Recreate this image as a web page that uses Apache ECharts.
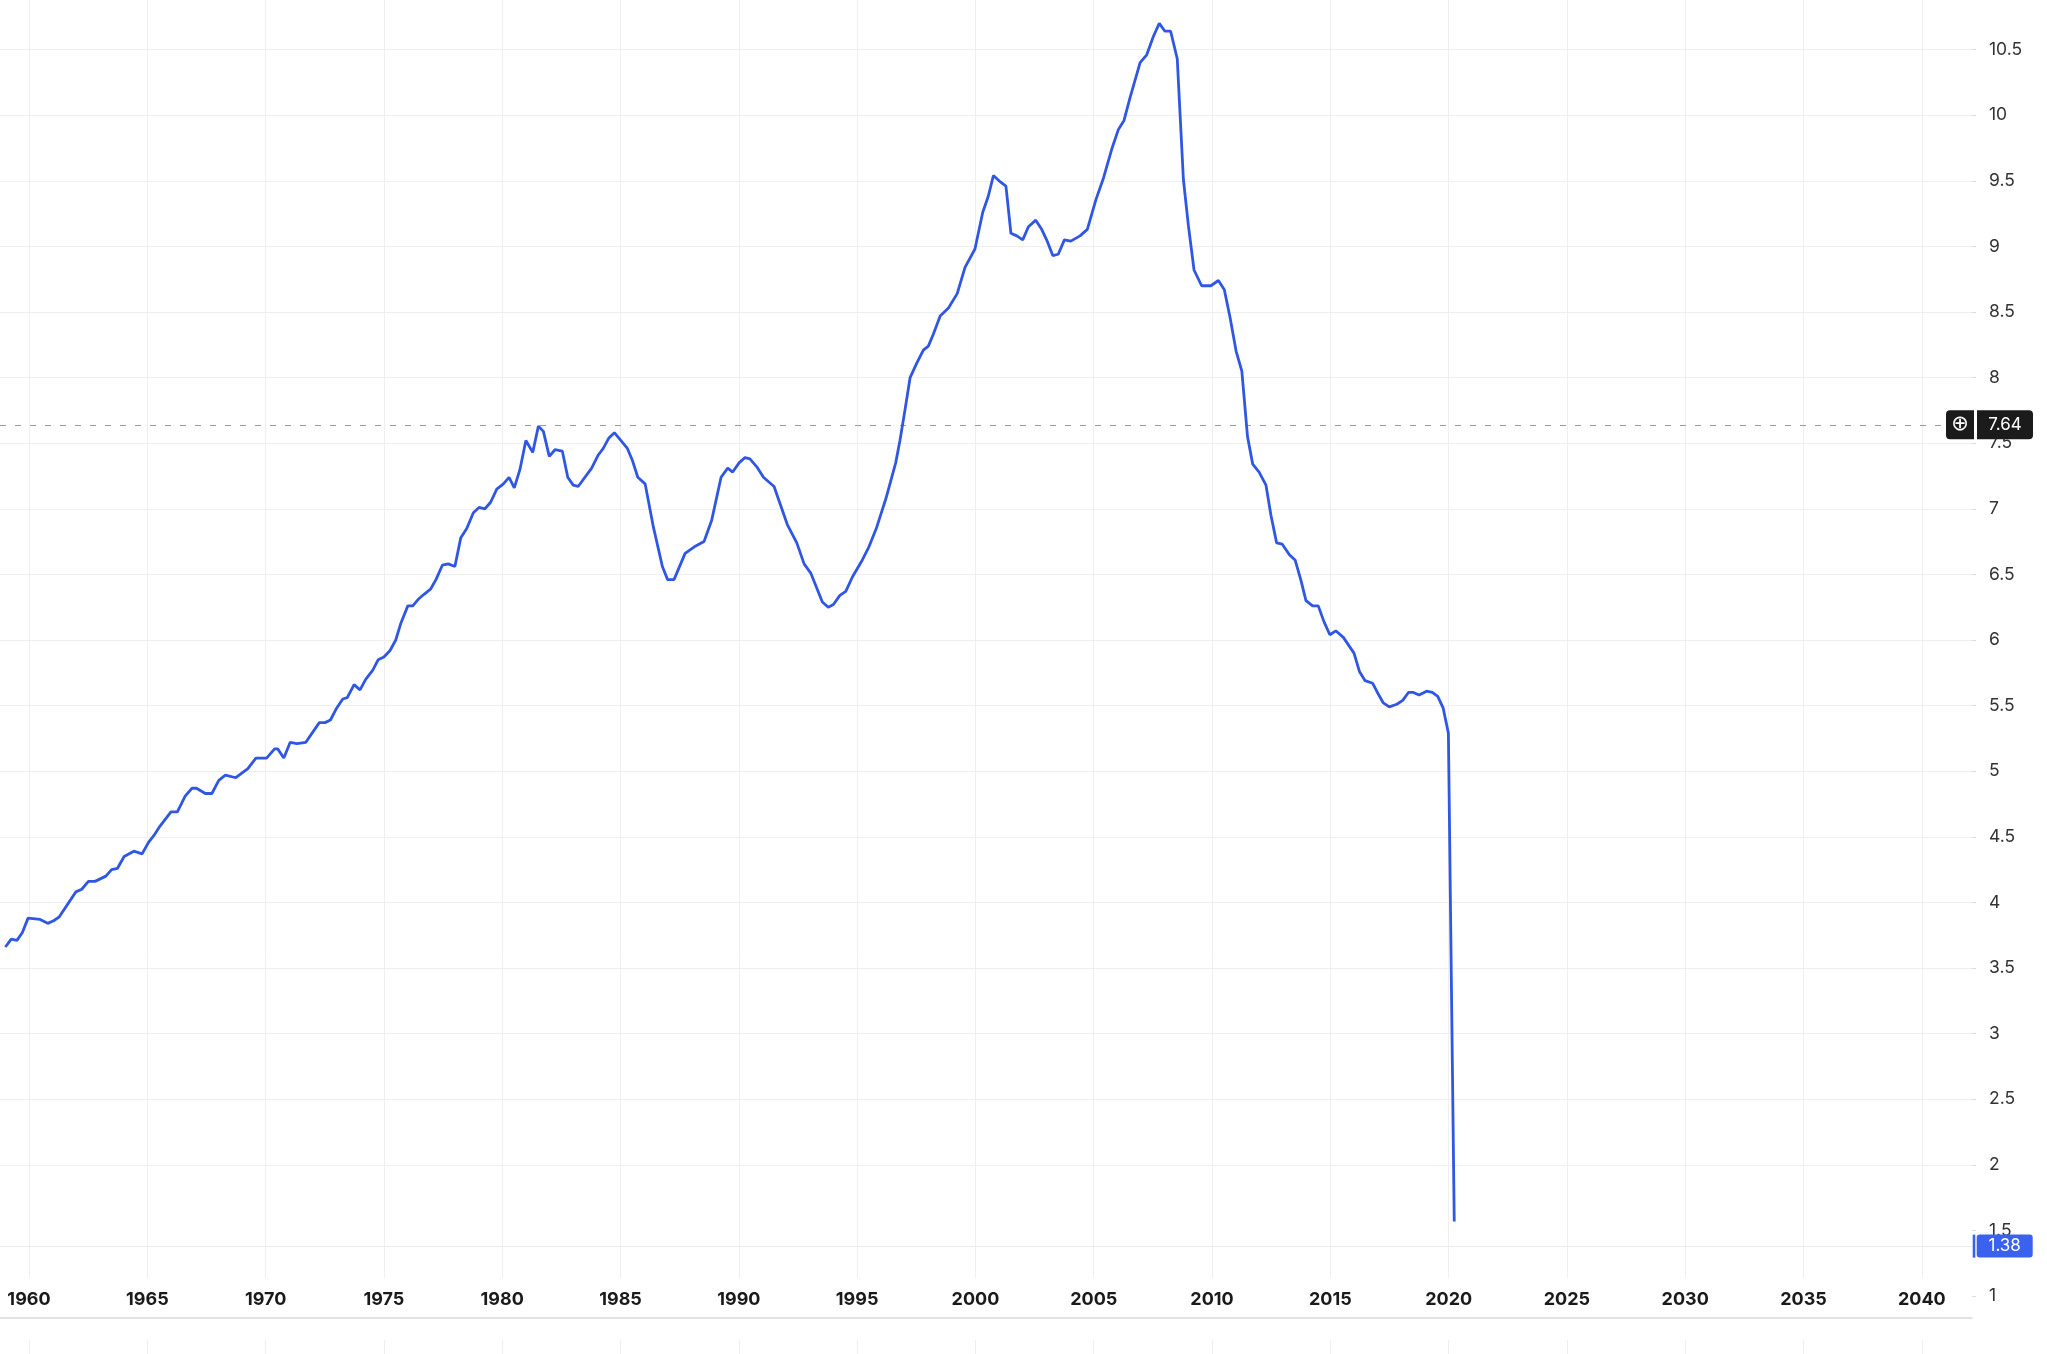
<!DOCTYPE html>
<html>
<head>
<meta charset="utf-8">
<title>chart</title>
<script src="https://cdn.jsdelivr.net/npm/echarts@6/dist/echarts.min.js"></script>
<style>
  html, body { margin: 0; padding: 0; background: #fff; }
  #chart { width: 2047px; height: 1354px; }
</style>
</head>
<body>
<div id="chart"></div>
<script>
// readings: decimal year of each vertex and its value
const quarters = [
  1959.00, 1959.25, 1959.49, 1959.72, 1959.96, 1960.47, 1960.79, 1961.04, 1961.28, 1961.98,
  1962.23, 1962.51, 1962.79, 1963.25, 1963.49, 1963.74, 1964.02, 1964.43, 1964.78, 1965.06,
  1965.28, 1965.53, 1966.00, 1966.27, 1966.60, 1966.89, 1967.08, 1967.45, 1967.73, 1968.02,
  1968.30, 1968.74, 1969.25, 1969.59, 1970.04, 1970.38, 1970.51, 1970.77, 1971.04, 1971.32,
  1971.70, 1972.27, 1972.51, 1972.74, 1973.00, 1973.26, 1973.45, 1973.74, 1973.99, 1974.23,
  1974.53, 1974.76, 1975.00, 1975.26, 1975.50, 1975.72, 1976.01, 1976.22, 1976.45, 1976.71,
  1976.98, 1977.20, 1977.47, 1977.72, 1978.00, 1978.25, 1978.50, 1978.78, 1979.02, 1979.27,
  1979.51, 1979.77, 1980.05, 1980.29, 1980.51, 1980.75, 1981.00, 1981.29, 1981.53, 1981.74,
  1981.99, 1982.23, 1982.54, 1982.77, 1983.00, 1983.21, 1983.78, 1984.06, 1984.27, 1984.51,
  1984.74, 1985.02, 1985.29, 1985.50, 1985.73, 1986.04, 1986.39, 1986.77, 1986.99, 1987.26,
  1987.73, 1988.12, 1988.53, 1988.85, 1989.25, 1989.53, 1989.74, 1990.01, 1990.26, 1990.47,
  1990.76, 1991.04, 1991.49, 1991.74, 1992.05, 1992.45, 1992.76, 1993.04, 1993.53, 1993.78,
  1994.00, 1994.27, 1994.52, 1994.80, 1995.22, 1995.50, 1995.83, 1996.22, 1996.63, 1996.81,
  1997.02, 1997.24, 1997.52, 1997.80, 1998.01, 1998.22, 1998.51, 1998.86, 1999.23, 1999.56,
  1999.98, 2000.31, 2000.54, 2000.76, 2001.00, 2001.29, 2001.50, 2001.75, 2002.00, 2002.24,
  2002.55, 2002.80, 2003.01, 2003.27, 2003.50, 2003.76, 2004.03, 2004.42, 2004.73, 2005.10,
  2005.41, 2005.76, 2006.04, 2006.28, 2006.53, 2006.96, 2007.24, 2007.52, 2007.77, 2008.01,
  2008.25, 2008.53, 2008.79, 2009.00, 2009.24, 2009.56, 2009.95, 2010.27, 2010.52, 2010.76,
  2011.02, 2011.26, 2011.50, 2011.72, 2011.99, 2012.28, 2012.49, 2012.73, 2012.97, 2013.27,
  2013.51, 2013.75, 2013.97, 2014.25, 2014.49, 2014.73, 2014.98, 2015.23, 2015.55, 2016.00,
  2016.23, 2016.47, 2016.79, 2016.99, 2017.24, 2017.49, 2017.81, 2018.06, 2018.30, 2018.51,
  2018.75, 2019.07, 2019.31, 2019.54, 2019.77, 2019.99, 2020.25
];
const values = [
  3.66, 3.72, 3.71, 3.77, 3.88, 3.87, 3.84, 3.86, 3.89, 4.08,
  4.10, 4.16, 4.16, 4.20, 4.25, 4.26, 4.35, 4.39, 4.37, 4.46,
  4.51, 4.58, 4.69, 4.69, 4.81, 4.87, 4.87, 4.83, 4.83, 4.93,
  4.97, 4.95, 5.02, 5.10, 5.10, 5.17, 5.17, 5.10, 5.22, 5.21,
  5.22, 5.37, 5.37, 5.39, 5.48, 5.55, 5.56, 5.66, 5.62, 5.70,
  5.77, 5.85, 5.87, 5.92, 6.00, 6.13, 6.26, 6.26, 6.31, 6.35,
  6.39, 6.46, 6.57, 6.58, 6.56, 6.78, 6.85, 6.97, 7.01, 7.00,
  7.05, 7.15, 7.19, 7.24, 7.16, 7.30, 7.52, 7.43, 7.63, 7.59,
  7.40, 7.45, 7.44, 7.24, 7.18, 7.17, 7.31, 7.41, 7.46, 7.54,
  7.58, 7.52, 7.46, 7.37, 7.24, 7.19, 6.86, 6.56, 6.46, 6.46,
  6.66, 6.71, 6.75, 6.91, 7.24, 7.31, 7.28, 7.35, 7.39, 7.38,
  7.32, 7.24, 7.17, 7.04, 6.88, 6.74, 6.58, 6.51, 6.29, 6.25,
  6.27, 6.34, 6.37, 6.48, 6.61, 6.71, 6.86, 7.08, 7.35, 7.52,
  7.75, 8.00, 8.11, 8.21, 8.24, 8.33, 8.47, 8.53, 8.64, 8.84,
  8.98, 9.26, 9.38, 9.54, 9.50, 9.46, 9.10, 9.08, 9.05, 9.15,
  9.20, 9.13, 9.05, 8.93, 8.94, 9.05, 9.04, 9.08, 9.13, 9.36,
  9.52, 9.74, 9.89, 9.96, 10.13, 10.40, 10.46, 10.60, 10.70, 10.64,
  10.64, 10.43, 9.51, 9.16, 8.82, 8.70, 8.70, 8.74, 8.67, 8.46,
  8.20, 8.05, 7.55, 7.34, 7.28, 7.18, 6.95, 6.74, 6.73, 6.65,
  6.61, 6.46, 6.30, 6.26, 6.26, 6.14, 6.04, 6.07, 6.02, 5.90,
  5.76, 5.69, 5.67, 5.60, 5.52, 5.49, 5.51, 5.54, 5.60, 5.60,
  5.58, 5.61, 5.60, 5.57, 5.48, 5.29, 1.38
];
const yearTicks = [1960, 1965, 1970, 1975, 1980, 1985, 1990, 1995, 2000,
  2005, 2010, 2015, 2020, 2025, 2030, 2035, 2040];
const gridValues = [2, 2.5, 3, 3.5, 4, 4.5, 5, 5.5, 6, 6.5, 7, 7.5, 8, 8.5, 9, 9.5, 10, 10.5];
const peakValue = 7.64;
const lastValue = 1.38;

const X_MIN = 1958.774, X_MAX = 2042.12;
const LINE = '#2f57e4';
const BLUE = '#3b62ee';
const GRID = '#efefef';
const FONT = 'Inter, Roboto, sans-serif';

const chart = echarts.init(document.getElementById('chart'));

const points = quarters.map((q, i) => [q, values[i]]);

chart.setOption({
  animation: false,
  backgroundColor: '#ffffff',
  grid: [
    { left: 0, right: 75, top: 0, height: 1220, outerBoundsMode: 'none' },     // line pane
    { left: 0, right: 75, top: 0, height: 1278, outerBoundsMode: 'none' },     // grid lines + years
    { left: 0, right: 75, top: -16, height: 1377.6, outerBoundsMode: 'none' }, // value labels 0.5..11
    { left: 0, right: 75, top: 1340, height: 40, outerBoundsMode: 'none' }     // lower pane
  ],
  xAxis: [
    { gridIndex: 0, type: 'value', min: X_MIN, max: X_MAX, show: false },
    {
      gridIndex: 1, type: 'value', min: X_MIN, max: X_MAX,
      axisLine: { show: false, onZero: false },
      axisTick: { show: false, customValues: yearTicks },
      splitLine: { show: true, lineStyle: { color: GRID, width: 1 } },
      axisLabel: {
        customValues: yearTicks, margin: 13, fontFamily: FONT,
        fontWeight: 'bold', fontSize: 18, color: '#1a1a1a',
        formatter: v => String(v)
      }
    },
    { gridIndex: 2, type: 'value', min: X_MIN, max: X_MAX, show: false },
    {
      gridIndex: 3, type: 'value', min: X_MIN, max: X_MAX, position: 'top', offset: 22,
      axisLine: { show: true, onZero: false, lineStyle: { color: '#dadada', width: 1.5 } },
      axisTick: { show: false, customValues: yearTicks },
      axisLabel: { show: false },
      splitLine: { show: true, lineStyle: { color: GRID, width: 1 } }
    }
  ],
  yAxis: [
    { gridIndex: 0, type: 'value', min: 1.579, max: 10.878, show: false },
    {
      gridIndex: 1, type: 'value', position: 'right', min: 1.137, max: 10.878,
      axisLine: { show: false, onZero: false },
      axisTick: { show: false, customValues: gridValues },
      axisLabel: { show: false },
      splitLine: { show: true, lineStyle: { color: GRID, width: 1 } }
    },
    {
      gridIndex: 2, type: 'value', position: 'right', min: 0.5, max: 11, interval: 0.5,
      axisLine: { show: false, onZero: false },
      axisTick: { show: true, length: 4, lineStyle: { color: '#dddddd' } },
      splitLine: { show: false },
      axisLabel: {
        margin: 17, fontSize: 17.5, color: '#333333', fontFamily: FONT,
        formatter: v => (v < 1 || v > 10.5) ? '' : String(v)
      }
    },
    { gridIndex: 3, type: 'value', show: false }
  ],
  series: [
    {
      type: 'line', xAxisIndex: 0, yAxisIndex: 0,
      data: points, showSymbol: false, clip: true, z: 5,
      lineStyle: { color: LINE, width: 2.8 }
    },
    {
      type: 'line', xAxisIndex: 1, yAxisIndex: 1, data: [], clip: false, z: 6,
      markLine: {
        silent: true, symbol: ['none', 'none'], animation: false,
        data: [
          {
            yAxis: peakValue,
            lineStyle: { type: [6, 9], color: '#9a9a9a', width: 1 },
            label: {
              show: true, position: 'end', distance: -26,
              formatter: '{i|\u2295}{g|}{v|' + peakValue.toFixed(2) + '}',
              rich: {
                i: { backgroundColor: '#1b1b1b', color: '#ffffff', width: 28, height: 29,
                     align: 'center', fontSize: 21, fontFamily: 'DejaVu Sans', borderRadius: [4, 0, 0, 4] },
                g: { width: 3, height: 29 },
                v: { backgroundColor: '#1b1b1b', color: '#ffffff', width: 56, height: 29,
                     align: 'center', fontSize: 17, fontFamily: FONT, borderRadius: [0, 4, 4, 0] }
              }
            }
          },
          {
            yAxis: lastValue,
            lineStyle: { type: 'solid', color: '#ebebeb', width: 1 },
            label: {
              show: true, position: 'end', distance: 0.7,
              formatter: '{b|}{g|}{v|' + lastValue.toFixed(2) + '}',
              rich: {
                b: { backgroundColor: BLUE, width: 2.6, height: 23 },
                g: { width: 1.4, height: 23 },
                v: { backgroundColor: BLUE, color: '#ffffff', width: 56, height: 23,
                     align: 'center', fontSize: 17, fontFamily: FONT, borderRadius: 3 }
              }
            }
          }
        ]
      }
    }
  ]
});
</script>
</body>
</html>
